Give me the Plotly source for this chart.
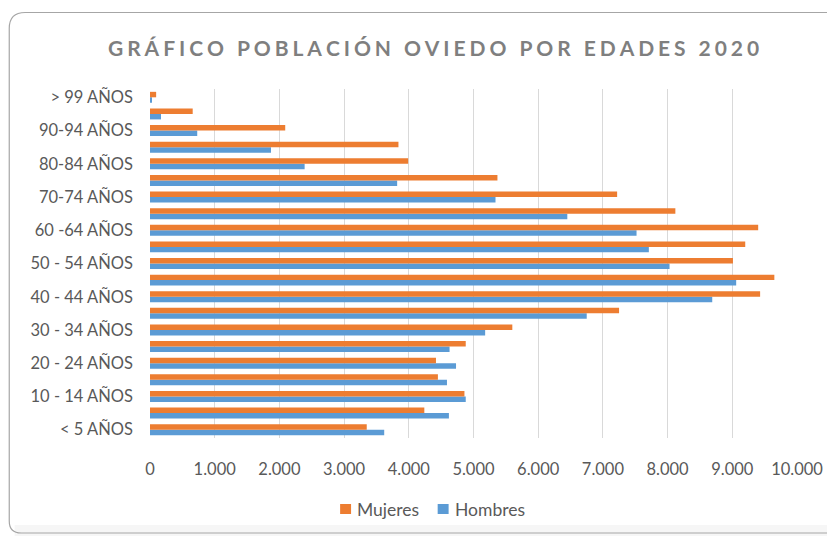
import plotly.graph_objects as go

# grupos de edad (de abajo hacia arriba)
edades = ['< 5 AÑOS', '5 - 9 AÑOS', '10 - 14 AÑOS', '15 - 19 AÑOS', '20 - 24 AÑOS',
          '25 - 29 AÑOS', '30 - 34 AÑOS', '35 - 39 AÑOS', '40 - 44 AÑOS', '45 - 49 AÑOS',
          '50 - 54 AÑOS', '55 - 59 AÑOS', '60 -64 AÑOS', '65-69 AÑOS', '70-74 AÑOS',
          '75-79 AÑOS', '80-84 AÑOS', '85-89 AÑOS', '90-94 AÑOS', '95-99 AÑOS', '> 99 AÑOS']

mujeres = [3350, 4240, 4860, 4450, 4420, 4880, 5600, 7250, 9430, 9650,
           9010, 9200, 9400, 8120, 7220, 5370, 3990, 3840, 2090, 660, 95]
hombres = [3620, 4620, 4880, 4590, 4730, 4630, 5180, 6750, 8690, 9060,
           8030, 7710, 7520, 6450, 5340, 3820, 2390, 1870, 730, 170, 20]

# solo se muestran una de cada dos etiquetas
etiquetas = edades[::2]

valores_x = [0, 1000, 2000, 3000, 4000, 5000, 6000, 7000, 8000, 9000, 10000]
texto_x = ['0', '1.000', '2.000', '3.000', '4.000', '5.000', '6.000', '7.000', '8.000', '9.000', '10.000']

naranja = '#ED7D31'
azul = '#5B9BD5'

# la página deja 8 px de margen alrededor de la figura
D = 8
W, H = 835 - D, 536 - D
L, R = 150 - D, W - (800 - D)
T, B = 89 - D, H - (438 - D)
gris = '#595959'
fuente = 'Lato'

fig = go.Figure()
fig.add_trace(go.Bar(y=edades, x=hombres, name='Hombres', orientation='h',
                     marker=dict(color=azul, line=dict(width=0))))
fig.add_trace(go.Bar(y=edades, x=mujeres, name='Mujeres', orientation='h',
                     marker=dict(color=naranja, line=dict(width=0))))


# pixel de la captura -> coordenadas paper
def px(x):
    return (x - D - L) / (W - L - R)


def py(y):
    return (H - B - (y - D)) / (H - T - B)


# marco redondeado del gráfico
x0, y0, x1, y1, r, rb = 8.6, 12.5, 850, 533, 16, 12
camino = (f'M {px(x0)},{py(y0 + r)} L {px(x0)},{py(y1 - rb)} '
          f'Q {px(x0)},{py(y1)} {px(x0 + rb)},{py(y1)} L {px(x1)},{py(y1)} '
          f'L {px(x1)},{py(y0)} L {px(x0 + r)},{py(y0)} '
          f'Q {px(x0)},{py(y0)} {px(x0)},{py(y0 + r)} Z')

formas = [
    dict(type='rect', xref='paper', yref='paper', x0=px(14), x1=px(850), y0=py(536), y1=py(525),
         line=dict(width=0), fillcolor='rgba(0,0,0,0.035)', layer='below'),
    dict(type='path', xref='paper', yref='paper', path=camino,
         line=dict(color='#a6a6a6', width=1.2), fillcolor='rgba(0,0,0,0)', layer='below'),
]

# leyenda dibujada a mano (cuadrado + texto)
leyenda = [('Mujeres', naranja, 341), ('Hombres', azul, 439)]
notas = []
for nombre, color, xs in leyenda:
    formas.append(dict(type='rect', xref='paper', yref='paper',
                       x0=px(xs), x1=px(xs + 11), y0=py(514), y1=py(504),
                       line=dict(width=0), fillcolor=color))
    notas.append(dict(text=nombre, xref='paper', yref='paper', x=px(xs + 15), y=py(509),
                      xanchor='left', yanchor='middle', showarrow=False,
                      font=dict(size=17.5, color=gris, family=fuente)))

titulo = '\u2009\u200a'.join('GRÁFICO POBLACIÓN OVIEDO POR EDADES 2020')
notas.append(dict(text='<b>' + titulo + '</b>', xref='paper', yref='paper',
                  x=px(435), y=py(47), xanchor='center', yanchor='middle',
                  showarrow=False, font=dict(size=21, color='#7f7f7f', family=fuente)))

fig.update_layout(
    width=W, height=H,
    margin=dict(l=L, r=R, t=T, b=B),
    paper_bgcolor='white', plot_bgcolor='white',
    barmode='group', bargap=0.34, bargroupgap=0,
    font=dict(family=fuente, color=gris, size=16.5),
    showlegend=False,
    shapes=formas,
    annotations=notas,
)

fig.update_xaxes(range=[0, 10000], tickvals=valores_x, ticktext=texto_x,
                 showgrid=True, gridcolor='#d9d9d9', gridwidth=1, zeroline=False,
                 showline=False, ticks='', ticklabelstandoff=19,
                 tickfont=dict(size=16.5, color=gris))
fig.update_yaxes(type='category', categoryorder='array', categoryarray=edades,
                 tickvals=etiquetas, ticktext=etiquetas, showgrid=False,
                 showline=False, ticks='', ticklabelstandoff=16,
                 tickfont=dict(size=16.5, color=gris))

fig.write_html('out.html')
